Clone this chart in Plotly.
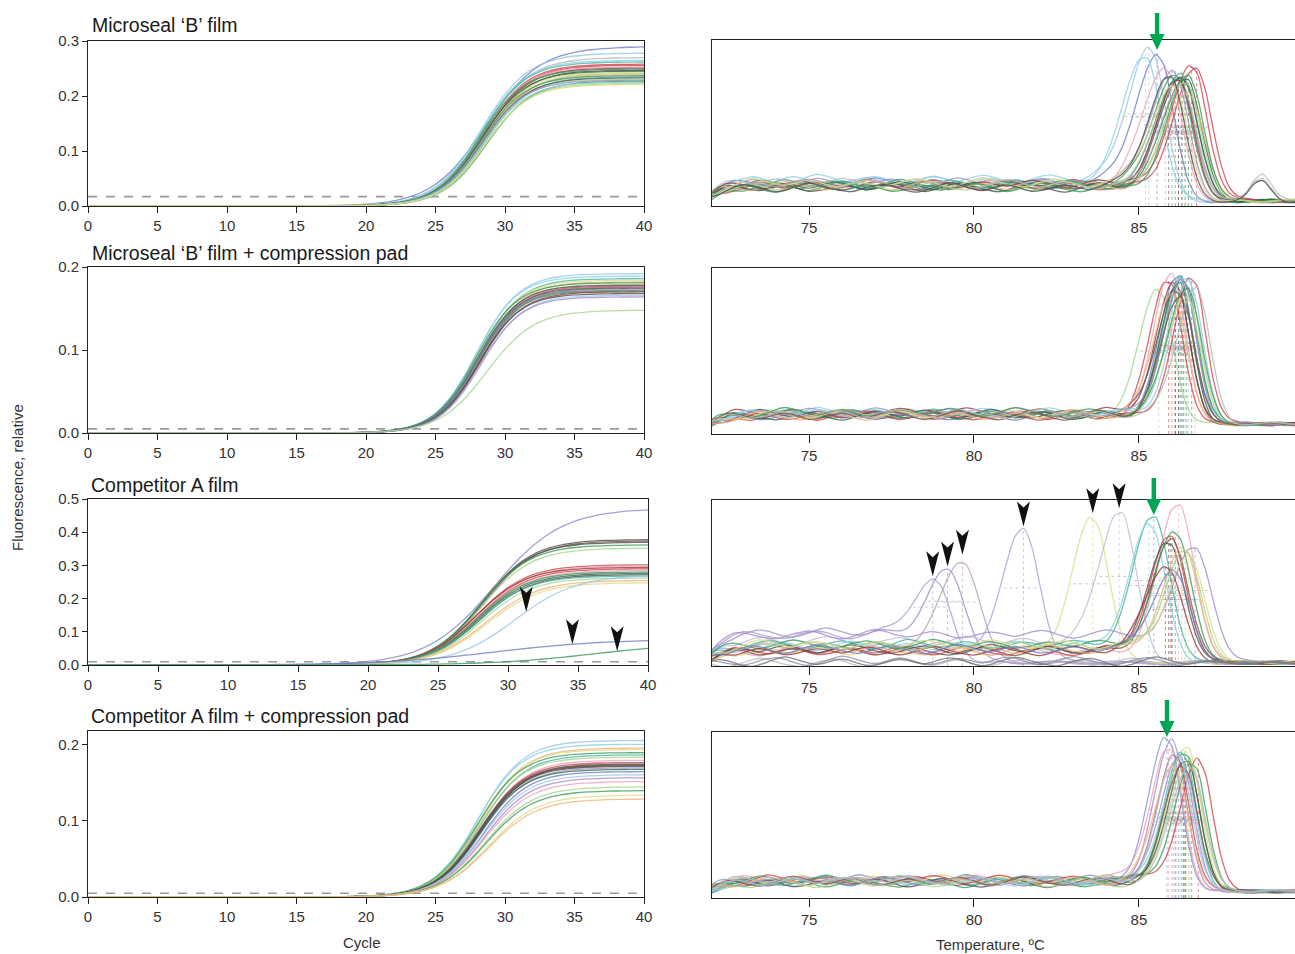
import numpy as np
import plotly.graph_objects as go

W, H = 1295, 954

# ---------------- colours ----------------
BLU = '#6f7fc4'; LBL = '#9cc8e6'; RED = '#d0474f'; GRN = '#3c9c5c'
LGR = '#a6d68c'; DGY = '#505050'; ORG = '#eeb47c'; PUR = '#a58ccc'
PNK = '#eea2bc'; YEL = '#e2dc86'; TEA = '#48b4a4'; BRN = '#7c5646'
CYN = '#86d4e4'; LGY = '#b8b8b8'; DRD = '#9a3a3a'; DGN = '#2e6e46'
ARROW_GREEN = '#00a651'

# ---------------- data ----------------
titles = ["Microseal ‘B’ film", "Microseal ‘B’ film + compression pad",
          "Competitor A film", "Competitor A film + compression pad"]
cycles = list(range(0, 41))
cycle_ticks = [0, 5, 10, 15, 20, 25, 30, 35, 40]
temp_ticks = [75, 80, 85]

# amplification curves: plateau, midpoint cycle, slope, colour (one entry per well)
amp1_fmax = [0.290, 0.278, 0.270, 0.265, 0.262, 0.258, 0.256, 0.253, 0.251, 0.249, 0.247, 0.245,
             0.243, 0.241, 0.239, 0.237, 0.235, 0.233, 0.231, 0.229, 0.227, 0.225, 0.223, 0.221]
amp1_mid = [28.6, 28.3, 28.4, 28.2, 28.3, 28.4, 28.5, 28.3, 28.4, 28.2, 28.5, 28.3,
            28.4, 28.6, 28.5, 28.3, 28.6, 28.4, 28.5, 28.3, 28.7, 28.4, 28.6, 28.5]
amp1_k = [1.95, 1.7, 1.7, 1.65, 1.6, 1.6, 1.6, 1.6, 1.6, 1.6, 1.6, 1.6,
          1.6, 1.6, 1.6, 1.6, 1.6, 1.6, 1.6, 1.6, 1.6, 1.6, 1.6, 1.6]
amp1_col = [BLU, LBL, LGY, CYN, TEA, RED, RED, PNK, DRD, GRN, DGY, DGN,
            YEL, LGR, ORG, GRN, TEA, DGY, LGR, PUR, GRN, CYN, LGR, YEL]
amp1_threshold = 0.017

amp2_fmax = [0.192, 0.189, 0.186, 0.184, 0.182, 0.181, 0.179, 0.178, 0.177, 0.176,
             0.175, 0.174, 0.173, 0.172, 0.171, 0.170, 0.168, 0.166, 0.164, 0.148]
amp2_mid = [28.0, 27.9, 28.1, 28.0, 28.2, 27.9, 28.1, 28.0, 28.2, 28.1,
            28.0, 28.2, 28.1, 27.9, 28.0, 28.2, 28.1, 28.3, 28.2, 28.7]
amp2_k = [1.5, 1.5, 1.5, 1.5, 1.5, 1.5, 1.5, 1.5, 1.5, 1.5,
          1.5, 1.5, 1.5, 1.5, 1.5, 1.5, 1.5, 1.5, 1.5, 1.7]
amp2_col = [LBL, CYN, TEA, YEL, ORG, GRN, LGR, DGY, RED, PUR,
            BRN, DGN, PNK, BLU, GRN, DRD, DGY, LBL, PUR, LGR]
amp2_threshold = 0.005

amp3_fmax = [0.472, 0.378, 0.374, 0.370, 0.362, 0.352, 0.302, 0.298, 0.294, 0.290, 0.285,
             0.280, 0.276, 0.272, 0.268, 0.262, 0.255, 0.248, 0.272, 0.078, 0.066]
amp3_mid = [29.0, 28.2, 28.3, 28.1, 28.0, 28.1, 27.8, 27.9, 27.7, 27.9, 28.0,
            27.8, 27.9, 28.0, 27.9, 28.1, 28.4, 28.5, 30.5, 29.0, 36.0]
amp3_k = [2.4, 1.8, 1.8, 1.8, 1.8, 1.8, 1.8, 1.8, 1.8, 1.8, 1.8,
          1.8, 1.8, 1.8, 1.8, 1.8, 1.9, 1.9, 2.2, 4.0, 3.5]
amp3_col = ['#8c8cd0', DGY, BRN, DGY, GRN, LGR, RED, PNK, DRD, RED, PNK,
            GRN, DGN, DGY, TEA, LGR, ORG, YEL, LBL, BLU, GRN]
amp3_threshold = 0.010
amp3_flag_well = [18, 19, 20]          # wells marked with black arrowheads
amp3_flag_cycle = [31.3, 34.6, 37.8]

amp4_fmax = [0.206, 0.201, 0.196, 0.194, 0.190, 0.187, 0.184, 0.180, 0.177, 0.175, 0.174, 0.173,
             0.172, 0.170, 0.168, 0.165, 0.161, 0.157, 0.152, 0.145, 0.140, 0.134, 0.129]
amp4_mid = [28.1, 28.0, 28.2, 28.1, 28.0, 28.2, 28.1, 28.3, 28.2, 28.2, 28.3, 28.1,
            28.2, 28.3, 28.2, 28.4, 28.4, 28.5, 28.5, 28.6, 28.6, 28.8, 28.8]
amp4_k = [1.6, 1.6, 1.6, 1.6, 1.6, 1.6, 1.6, 1.6, 1.6, 1.6, 1.6, 1.6,
          1.6, 1.6, 1.6, 1.6, 1.65, 1.65, 1.7, 1.7, 1.7, 1.75, 1.75]
amp4_col = [LBL, CYN, ORG, YEL, GRN, TEA, LGR, PNK, RED, DGY, DGY, BRN,
            DGY, PUR, DGN, BLU, LBL, PUR, PNK, LGR, GRN, YEL, ORG]
amp4_threshold = 0.005

# melt (derivative) curves: peak Tm, peak top, baseline level, colour
melt_wobble = [0.000, 0.010, 0.016, 0.012, 0.002, -0.009, -0.015, -0.010, 0.001, 0.011, 0.018,
               0.013, 0.003, -0.006, -0.012, -0.016, -0.009, 0.002, 0.009, 0.014, 0.008, -0.003,
               -0.013, -0.018, -0.011, 0.000, 0.012, 0.020, 0.014, 0.004, -0.005, -0.010, -0.004,
               0.006, 0.011, 0.005, -0.006, -0.014, -0.012, -0.005, 0.004, 0.009, 0.006, -0.002,
               -0.008]

melt1_tm = [85.30, 85.55, 85.20, 85.80, 86.60, 86.75, 86.00, 86.10, 86.20, 86.30,
            86.30, 86.40, 86.20, 86.50, 86.20, 86.50, 86.00, 86.40, 86.30, 85.90]
melt1_h = [0.96, 0.93, 0.92, 0.85, 0.84, 0.83, 0.82, 0.82, 0.80, 0.81,
           0.80, 0.78, 0.76, 0.70, 0.75, 0.77, 0.72, 0.74, 0.70, 0.78]
melt1_base = [0.15, 0.14, 0.16, 0.13, 0.13, 0.12, 0.14, 0.13, 0.12, 0.13,
              0.11, 0.12, 0.14, 0.12, 0.13, 0.11, 0.14, 0.12, 0.13, 0.11]
melt1_bump = [0, 0, 0, 0, 0, 0, 0, 0, 0, 0, 0, 0, 0.17, 0, 0, 0, 0, 0, 0.14, 0.12]
melt1_col = [LBL, BLU, CYN, PNK, RED, RED, PUR, GRN, GRN, TEA,
             DGY, DGN, LGY, ORG, DRD, GRN, YEL, LGR, LGY, DGY]
melt1_arrow_well = 1

melt2_tm = [85.60, 85.90, 86.00, 86.10, 86.20, 86.30, 86.35, 86.20, 86.40,
            86.10, 86.60, 86.30, 86.50, 86.00, 86.40, 86.45, 86.25, 86.70]
melt2_h = [0.88, 0.93, 0.95, 0.92, 0.96, 0.97, 0.94, 0.90, 0.93,
           0.88, 0.94, 0.92, 0.90, 0.87, 0.86, 0.90, 0.85, 0.88]
melt2_base = [0.12, 0.11, 0.12, 0.13, 0.11, 0.12, 0.12, 0.11, 0.13,
              0.12, 0.11, 0.13, 0.12, 0.11, 0.12, 0.13, 0.11, 0.12]
melt2_bump = [0] * 18
melt2_col = [LGR, RED, PNK, DRD, BLU, TEA, GRN, DGN, CYN,
             DGY, RED, PUR, LBL, ORG, YEL, GRN, BRN, LGY]

melt3_tm = [78.75, 79.20, 79.65, 81.50, 83.60, 84.40, 85.45, 85.30, 86.20, 85.95, 86.00,
            85.90, 86.10, 86.70, 86.30, 86.50, 85.80, 86.40, 86.00, 86.00, 86.00, 86.00]
melt3_h = [0.52, 0.58, 0.65, 0.82, 0.90, 0.93, 0.90, 0.85, 0.97, 0.78, 0.76,
           0.74, 0.80, 0.72, 0.70, 0.65, 0.62, 0.68, 0.58, 0.0, 0.0, 0.0]
melt3_base = [0.19, 0.20, 0.12, 0.12, 0.09, 0.15, 0.13, 0.12, 0.09, 0.09, 0.09,
              0.10, 0.13, 0.19, 0.10, 0.13, 0.09, 0.12, 0.10, 0.02, 0.03, 0.025]
melt3_bump = [0] * 22
melt3_col = ['#a9a2cc', PUR, '#b8a0b4', '#a8a8d4', YEL, '#c4bcd8', TEA, CYN, PNK, RED, BRN,
             DGY, GRN, PUR, ORG, YEL, DRD, LGR, BLU, LGY, '#8890a8', '#707070']
melt3_flag_well = [0, 1, 2, 3, 4, 5]
melt3_arrow_well = 6

melt4_tm = [85.85, 86.00, 85.90, 86.10, 86.40, 86.45, 86.30, 86.25, 86.80,
            86.40, 86.20, 86.60, 86.05, 86.50, 86.35, 86.55, 86.15]
melt4_h = [0.96, 0.93, 0.90, 0.86, 0.89, 0.91, 0.87, 0.84, 0.83,
           0.84, 0.85, 0.80, 0.82, 0.86, 0.80, 0.82, 0.88]
melt4_base = [0.11, 0.10, 0.11, 0.10, 0.09, 0.11, 0.10, 0.10, 0.11,
              0.09, 0.10, 0.11, 0.10, 0.09, 0.10, 0.11, 0.10]
melt4_bump = [0] * 17
melt4_col = ['#8a96c8', PUR, PNK, RED, GRN, YEL, TEA, CYN, RED,
             DGY, PUR, GRN, ORG, LGR, BRN, LGY, LBL]
melt4_arrow_well = 0

# ---------------- helpers ----------------
cyc = np.asarray(cycles, float)
temps = np.round(np.arange(72.0, 89.8, 0.25), 2)
AMP_XRANGE = [0, 40]
MELT_XRANGE = [72.06, 89.73]
MELT_YRANGE = [0, 1]


def amp_value(fmax, mid, k, c):
    return fmax / (1.0 + np.exp(-(np.asarray(c, float) - mid) / k))


def melt_value(tm, h, base, post, sl, sr, shift, bump):
    T = temps
    n = len(melt_wobble)
    wob = np.array([melt_wobble[(i + shift) % n] for i in range(len(T))])
    lead = 1 - 0.5 * np.exp(-(T - 72.0) / 0.45)
    tail = 1.0 / (1.0 + np.exp((T - (tm + 0.75)) / 0.2))
    basec = base * lead * tail + post * (1 - tail)
    sig = np.where(T < tm, sl, sr)
    pk = max(h - base, 0.0) * np.exp(-0.5 * ((T - tm) / sig) ** 2)
    return basec + wob * 1.5 * (0.4 + 0.6 * tail) + pk + bump * np.exp(-0.5 * ((T - 88.7) / 0.3) ** 2)


fig = go.Figure()

def px_dom_x(a, b):
    return [a / W, b / W]

def px_dom_y(top, bottom):
    return [1 - bottom / H, 1 - top / H]

def to_paper(v, rng, dom):
    return dom[0] + (v - rng[0]) / (rng[1] - rng[0]) * (dom[1] - dom[0])

FONT = 'Liberation Sans, Arial, sans-serif'
TICKFONT = dict(family=FONT, size=15, color='#333')
AX = '#222'

amp_sets = [
    (amp1_fmax, amp1_mid, amp1_k, amp1_col, amp1_threshold, 0.3, [0, 0.1, 0.2, 0.3]),
    (amp2_fmax, amp2_mid, amp2_k, amp2_col, amp2_threshold, 0.2, [0, 0.1, 0.2]),
    (amp3_fmax, amp3_mid, amp3_k, amp3_col, amp3_threshold, 0.5, [0, 0.1, 0.2, 0.3, 0.4, 0.5]),
    (amp4_fmax, amp4_mid, amp4_k, amp4_col, amp4_threshold, 0.2184, [0, 0.1, 0.2]),
]
melt_sets = [
    (melt1_tm, melt1_h, melt1_base, melt1_bump, melt1_col, 0.03, 0.65, 0.45),
    (melt2_tm, melt2_h, melt2_base, melt2_bump, melt2_col, 0.06, 0.55, 0.42),
    (melt3_tm, melt3_h, melt3_base, melt3_bump, melt3_col, 0.02, 0.60, 0.48),
    (melt4_tm, melt4_h, melt4_base, melt4_bump, melt4_col, 0.04, 0.55, 0.42),
]

left_px = [(88, 644, 41, 206), (88, 644, 267, 433), (88, 648, 499, 665), (88, 644, 731, 897)]
right_px = [(712, 1295, 40, 206), (712, 1295, 268, 434), (712, 1295, 500, 666), (712, 1295, 732, 898)]
title_px = [(90, 25), (90, 253), (89, 485), (89, 716)]

layout = {}
shapes = []
annotations = []
doms = {}

for r in range(4):
    li, ri = 2 * r + 1, 2 * r + 2
    xl = 'x' if li == 1 else f'x{li}'
    yl = 'y' if li == 1 else f'y{li}'
    xr, yr = f'x{ri}', f'y{ri}'
    fmax, mid, kk, cols, thr, ytop, yticks = amp_sets[r]
    fig.add_trace(go.Scatter(x=[cycles[0], cycles[-1]], y=[thr, thr], mode='lines',
                             line=dict(color='#9a9a9a', width=1.6, dash='dash'),
                             xaxis=xl, yaxis=yl, hoverinfo='skip'))
    for i in range(len(fmax)):
        fig.add_trace(go.Scatter(x=cycles, y=amp_value(fmax[i], mid[i], kk[i], cyc), mode='lines',
                                 line=dict(color=cols[i], width=1.3, shape='spline'), opacity=0.8,
                                 xaxis=xl, yaxis=yl, hoverinfo='skip'))
    a, b, t, bt = left_px[r]
    dx, dy = px_dom_x(a, b), px_dom_y(t, bt)
    doms[li] = (dx, dy, AMP_XRANGE, [0, ytop])
    layout['xaxis' if li == 1 else f'xaxis{li}'] = dict(
        domain=dx, anchor=yl, range=AMP_XRANGE, tickvals=cycle_ticks,
        ticks='outside', ticklen=6, tickcolor=AX, showline=True, linecolor=AX, linewidth=1,
        mirror=True, showgrid=False, zeroline=False, tickfont=TICKFONT, automargin=False)
    layout['yaxis' if li == 1 else f'yaxis{li}'] = dict(
        domain=dy, anchor=xl, range=[0, ytop], tickvals=yticks,
        ticktext=[f'{v:.1f}' for v in yticks], ticks='outside', ticklen=5, tickcolor=AX,
        showline=True, linecolor=AX, linewidth=1, mirror=True, showgrid=False,
        zeroline=False, tickfont=TICKFONT, automargin=False)

    tm, hh, base, bump, mcols, post, sl, sr = melt_sets[r]
    for i in range(len(tm)):
        if hh[i] > 0:
            fig.add_trace(go.Scatter(x=[tm[i], tm[i]], y=[0, hh[i]], mode='lines',
                                     line=dict(color=mcols[i], width=1, dash='dot'), opacity=0.6,
                                     xaxis=xr, yaxis=yr, hoverinfo='skip'))
            half = (hh[i] + base[i]) / 2
            fig.add_trace(go.Scatter(x=[tm[i] - sl, tm[i] + sr], y=[half, half], mode='lines',
                                     line=dict(color='#8a8a8a', width=1, dash='dot'), opacity=0.45,
                                     xaxis=xr, yaxis=yr, hoverinfo='skip'))
    for i in range(len(tm)):
        fig.add_trace(go.Scatter(x=temps, y=melt_value(tm[i], hh[i], base[i], post, sl, sr, 7 * i + 3 * r, bump[i]),
                                 mode='lines', line=dict(color=mcols[i], width=1.3, shape='spline', smoothing=0.8),
                                 opacity=0.8, xaxis=xr, yaxis=yr, hoverinfo='skip'))
    a, b, t, bt = right_px[r]
    dx, dy = px_dom_x(a, b), px_dom_y(t, bt)
    doms[ri] = (dx, dy, MELT_XRANGE, MELT_YRANGE)
    layout[f'xaxis{ri}'] = dict(
        domain=dx, anchor=yr, range=MELT_XRANGE, tickvals=temp_ticks,
        ticks='outside', ticklen=8, tickcolor=AX, showline=True, linecolor=AX, linewidth=1,
        mirror=True, showgrid=False, zeroline=False, tickfont=TICKFONT, automargin=False)
    layout[f'yaxis{ri}'] = dict(
        domain=dy, anchor=xr, range=MELT_YRANGE, showticklabels=False, ticks='',
        showline=True, linecolor=AX, linewidth=1, mirror=False, showgrid=False, zeroline=False,
        automargin=False)

    tx, ty = title_px[r]
    annotations.append(dict(text=titles[r], x=tx / W, y=1 - ty / H, xref='paper', yref='paper',
                            xanchor='left', yanchor='middle', showarrow=False,
                            font=dict(family=FONT, size=19.5, color='#1a1a1a')))

BLACK_HEAD = 'M 0 0 L -6.5 25 L 0 19 L 6.5 25 Z'
GREEN_ARROW = 'M 0 0 L -7.5 16 L -2.2 16 L -2.2 37 L 2.2 37 L 2.2 16 L 7.5 16 Z'


def marker_shape(ax_id, xv, yv, path, color):
    dx, dy, rx, ry = doms[ax_id]
    return dict(type='path', xref='paper', yref='paper', xsizemode='pixel', ysizemode='pixel',
                xanchor=to_paper(xv, rx, dx), yanchor=to_paper(yv, ry, dy), path=path,
                fillcolor=color, line=dict(width=0), layer='above')


# black arrowheads on the late amplification wells (Competitor A film)
for w, c in zip(amp3_flag_well, amp3_flag_cycle):
    yv = float(amp_value(amp3_fmax[w], amp3_mid[w], amp3_k[w], c))
    shapes.append(marker_shape(5, c, yv, BLACK_HEAD, '#111'))

# black arrowheads on non-specific melt peaks
for w in melt3_flag_well:
    shapes.append(marker_shape(6, melt3_tm[w], melt3_h[w] + 0.02, BLACK_HEAD, '#111'))

# green arrows
for ax_id, tm_list, h_list, w in [(2, melt1_tm, melt1_h, melt1_arrow_well),
                                  (6, melt3_tm, melt3_h, melt3_arrow_well),
                                  (8, melt4_tm, melt4_h, melt4_arrow_well)]:
    shapes.append(marker_shape(ax_id, tm_list[w], h_list[w] + 0.01, GREEN_ARROW, ARROW_GREEN))

# axis titles
annotations.append(dict(text='Cycle', x=362 / W, y=1 - 942 / H, xref='paper', yref='paper',
                        xanchor='center', yanchor='middle', showarrow=False,
                        font=dict(family=FONT, size=15, color='#333')))
annotations.append(dict(text='Temperature, ºC', x=990 / W, y=1 - 944 / H, xref='paper', yref='paper',
                        xanchor='center', yanchor='middle', showarrow=False,
                        font=dict(family=FONT, size=15, color='#333')))
annotations.append(dict(text='Fluorescence, relative', x=18 / W, y=1 - 478 / H, xref='paper',
                        yref='paper', xanchor='center', yanchor='middle', showarrow=False,
                        textangle=-90, font=dict(family=FONT, size=15, color='#333')))

fig.update_layout(**layout)
fig.update_layout(width=W, height=H, margin=dict(l=0, r=0, t=0, b=0, pad=0, autoexpand=False),
                  paper_bgcolor='white', plot_bgcolor='white', showlegend=False,
                  hovermode=False, shapes=shapes, annotations=annotations,
                  font=dict(family=FONT, color='#333'))

fig.write_html("out.html", config={'displayModeBar': False, 'responsive': False},
               post_script="document.body.style.margin='0';document.body.style.padding='0';"
                           "document.body.style.overflow='hidden';"
                           "document.documentElement.style.overflow='hidden';")
